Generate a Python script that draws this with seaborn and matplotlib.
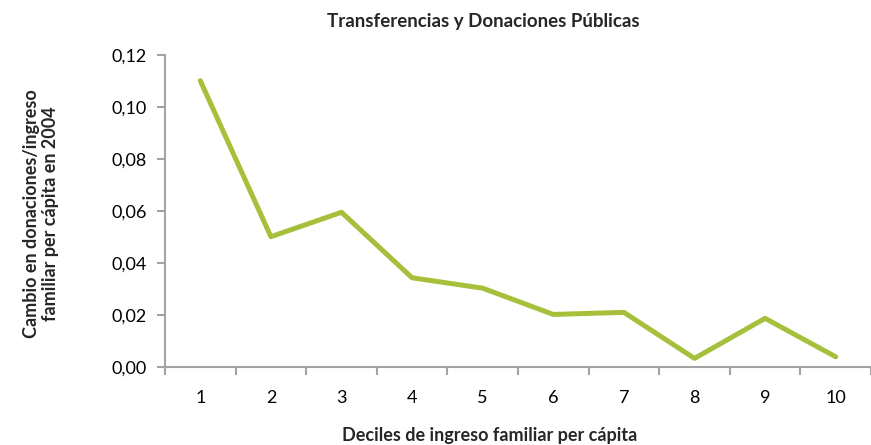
import matplotlib
matplotlib.use("Agg")
import matplotlib.pyplot as plt
import seaborn as sns
import pandas as pd
from matplotlib.ticker import FuncFormatter, FixedLocator

deciles = [1, 2, 3, 4, 5, 6, 7, 8, 9, 10]
valores = [0.110, 0.050, 0.0594, 0.0342, 0.0302, 0.0201, 0.0209, 0.0032, 0.0186, 0.0038]
y_ticks = [0.00, 0.02, 0.04, 0.06, 0.08, 0.10, 0.12]

titulo = "Transferencias y Donaciones Públicas"
x_label = "Deciles de ingreso familiar per cápita"
y_label = "Cambio en donaciones/ingreso\nfamiliar per cápita en 2004"

sns.set_theme(style="white")
plt.rcParams['font.family'] = ['Lato', 'DejaVu Sans']

df = pd.DataFrame({"decil": deciles, "valor": valores})

fig = plt.figure(figsize=(8.71, 4.45), dpi=100)
ax = fig.add_axes([165/871, 1-366.7/445, 1-165/871, (366.7-54.7)/445])

sns.lineplot(data=df, x="decil", y="valor", ax=ax, color="#a6c03c", linewidth=3.6)

ax.set_xlim(0.5, 10.5)
ax.set_ylim(0, 0.12)
ax.set_xticks(deciles)
ax.set_xticklabels([str(d) for d in deciles])
ax.xaxis.set_minor_locator(FixedLocator([d + 0.5 for d in [0] + deciles]))
ax.set_yticks(y_ticks)
ax.yaxis.set_major_formatter(FuncFormatter(lambda v, p: f"{v:.2f}".replace(".", ",")))

axis_col = "#a3a3a3"
for s in ["top", "right"]:
    ax.spines[s].set_visible(False)
for s in ["left", "bottom"]:
    ax.spines[s].set_color(axis_col)
    ax.spines[s].set_linewidth(1.5)

ax.tick_params(axis="x", which="major", length=0, pad=17, labelsize=13, colors="black")
ax.tick_params(axis="x", which="minor", bottom=True, length=6, width=1.5, color=axis_col)
ax.tick_params(axis="y", which="major", left=True, length=6, width=1.5, color=axis_col,
               labelsize=13, labelcolor="black", pad=7)

ax.set_xlabel("")
ax.set_ylabel("")

fig.text(483/871, 1-22/445, titulo, ha="center", va="center", fontsize=13.5, fontweight="bold")
fig.text(490/871, 1-436/445, x_label, ha="center", va="center", fontsize=13, fontweight="bold")
fig.text(41/871, 1-214/445, y_label, ha="center", va="center", rotation=90,
         fontsize=13, fontweight="bold", linespacing=1.15)

fig.savefig("out.png", dpi=100)
